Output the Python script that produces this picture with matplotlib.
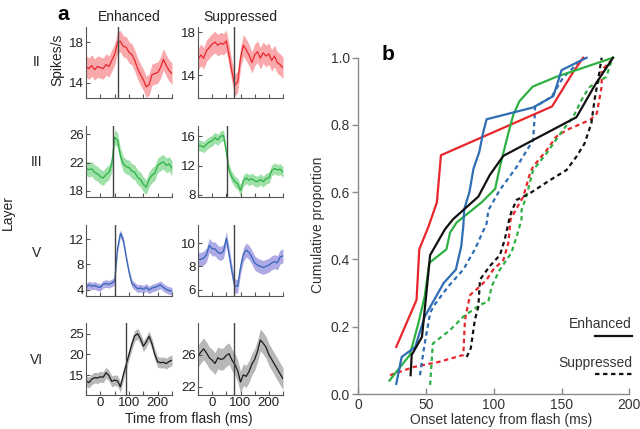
import matplotlib
matplotlib.use("Agg")
import matplotlib.pyplot as plt

plt.rcParams['font.family'] = ['Liberation Sans', 'DejaVu Sans']

# ---------------- data: panel a (firing-rate traces) ----------------
time_ms = [-50, -40, -30, -20, -10, 0, 10, 20, 30, 40, 50, 60, 70, 80, 90, 100,
           110, 120, 130, 140, 150, 160, 170, 180, 190, 200, 210, 220, 230, 240, 250]

II_enh = [15.6, 15.4, 15.7, 15.3, 15.6, 15.5, 15.4, 15.8, 15.6, 16.2, 16.8, 18.0, 18.1, 17.6, 17.5, 17.0,
          16.8, 16.2, 15.4, 14.8, 14.3, 13.6, 13.8, 14.8, 14.9, 15.0, 15.5, 16.3, 15.7, 15.2, 14.9]
II_sup = [15.5, 15.9, 15.6, 16.3, 16.6, 16.9, 17.1, 16.8, 17.0, 16.9, 17.2, 15.8, 14.3, 13.1, 13.4, 15.6,
          16.8, 16.4, 15.9, 15.2, 15.9, 16.2, 15.6, 16.1, 15.8, 16.0, 15.4, 15.8, 15.2, 15.0, 14.7]
III_enh = [21.2, 21.0, 21.1, 20.6, 20.4, 20.0, 19.8, 20.3, 20.6, 21.8, 25.6, 25.2, 23.0, 21.8, 21.4, 21.3,
           20.8, 20.6, 19.9, 19.6, 18.9, 18.5, 19.6, 20.2, 20.5, 21.6, 21.9, 22.1, 21.6, 21.8, 21.2]
III_sup = [14.8, 14.7, 14.5, 14.9, 15.2, 15.4, 15.8, 15.5, 16.0, 16.1, 13.8, 11.3, 10.4, 9.8, 9.5, 8.6,
           9.9, 10.3, 10.0, 10.2, 9.9, 9.8, 10.1, 9.8, 10.2, 10.3, 11.3, 11.6, 11.4, 11.5, 11.1]
V_enh = [4.4, 4.8, 4.6, 4.7, 4.5, 4.4, 4.9, 5.0, 4.9, 5.1, 5.4, 10.5, 12.9, 11.8, 9.2, 6.8,
         5.0, 4.6, 4.2, 4.3, 4.1, 4.4, 4.0, 4.3, 4.4, 4.6, 4.8, 4.4, 4.1, 3.9, 3.8]
V_sup = [8.6, 8.6, 8.7, 9.0, 9.8, 9.5, 9.5, 9.2, 9.1, 9.3, 10.4, 9.0, 7.5, 6.3, 6.3, 7.9,
         9.0, 9.4, 9.2, 8.8, 8.3, 8.1, 8.0, 7.9, 8.0, 8.1, 8.3, 8.4, 8.3, 8.8, 8.9]
VI_enh = [13.6, 13.2, 14.0, 14.4, 14.3, 14.6, 14.5, 15.6, 14.9, 13.5, 13.8, 13.6, 12.2, 15.0, 17.5, 20.0,
          22.5, 24.5, 25.0, 23.8, 22.0, 23.0, 24.4, 22.6, 20.0, 18.2, 18.0, 18.1, 17.8, 18.3, 18.6]
VI_sup = [25.8, 26.3, 26.7, 26.2, 25.6, 25.3, 24.9, 25.6, 25.4, 25.5, 25.9, 26.1, 25.3, 24.8, 24.0, 22.6,
          23.5, 23.3, 23.9, 24.8, 25.4, 26.4, 27.8, 27.4, 26.9, 26.0, 25.4, 24.8, 24.2, 23.6, 23.0]

# SEM half-widths of the shaded bands
sem_values = {"II_enh": 1.05, "II_sup": 1.0, "III_enh": 1.05, "III_sup": 0.75,
              "V_enh": 0.6, "V_sup": 0.6, "VI_enh": 1.3, "VI_sup": 1.35}
# flash-response onset markers (ms)
marker_ms = {"II_enh": 63, "II_sup": 78, "III_enh": 45, "III_sup": 54,
             "V_enh": 52, "V_sup": 77, "VI_enh": 90, "VI_sup": 78}

layer_names = ["II", "III", "V", "VI"]
column_titles = ["Enhanced", "Suppressed"]
ylims = {"II_enh": (12.5, 19.5), "II_sup": (11.9, 18.5),
         "III_enh": (17.1, 27.2), "III_sup": (7.7, 17.4),
         "V_enh": (3.05, 14.2), "V_sup": (5.45, 11.55),
         "VI_enh": (10.2, 27.6), "VI_sup": (21.0, 29.9)}
yticks = {"II_enh": [14, 18], "II_sup": [14, 18],
          "III_enh": [18, 22, 26], "III_sup": [8, 12, 16],
          "V_enh": [4, 8, 12], "V_sup": [6, 8, 10],
          "VI_enh": [15, 20, 25], "VI_sup": [22, 26]}
x_ticks = [-50, 0, 50, 100, 150, 200, 250]
x_ticklabels = ["", "0", "", "100", "", "200", ""]

# ---------------- data: panel b (cumulative onset latency) ----------------
enh_II_lat = [28, 43, 45, 48, 52, 58, 61, 143, 159, 166]
enh_II_cum = [0.14, 0.28, 0.43, 0.46, 0.50, 0.57, 0.71, 0.855, 0.96, 1.0]
enh_III_lat = [23, 38, 44, 49, 52.4, 65, 67.7, 72.6, 91, 101, 104.5, 110.7, 114.4, 118.8, 128.7, 146, 188]
enh_III_cum = [0.04, 0.116, 0.205, 0.29, 0.39, 0.43, 0.48, 0.51, 0.57, 0.61, 0.676, 0.775, 0.83, 0.87, 0.914, 0.943, 1.0]
enh_V_lat = [28, 32, 42, 49, 63, 72, 76, 77.5, 78.2, 82, 85, 89.3, 92, 94.7, 129, 144, 150, 168.5]
enh_V_cum = [0.03, 0.11, 0.14, 0.23, 0.33, 0.37, 0.44, 0.50, 0.55, 0.60, 0.67, 0.72, 0.775, 0.817, 0.852, 0.886, 0.963, 1.0]
enh_VI_lat = [38.6, 39.4, 47, 50, 53, 64, 70, 88.6, 97, 107, 129, 161, 174.7, 188]
enh_VI_cum = [0.056, 0.116, 0.17, 0.29, 0.413, 0.49, 0.52, 0.587, 0.651, 0.708, 0.755, 0.823, 0.919, 1.0]

sup_II_lat = [23.4, 40.6, 60, 77.5, 78.7, 82.4, 89.8, 94.7, 99.6, 107, 110.7, 112.4, 116.8, 121.8, 126.7,
              129, 139, 146, 153.7, 171, 176, 179.6, 179.6, 187]
sup_II_cum = [0.056, 0.08, 0.096, 0.116, 0.22, 0.294, 0.32, 0.34, 0.37, 0.398, 0.448, 0.52, 0.552, 0.587, 0.656,
              0.676, 0.725, 0.765, 0.785, 0.815, 0.834, 0.914, 0.963, 0.993]
sup_III_lat = [53, 55, 67.7, 77.5, 89.8, 96, 98.4, 104.5, 113, 117, 120.5, 120.5, 124, 129, 139, 151,
               158.7, 166, 171, 183, 187]
sup_III_cum = [0.027, 0.15, 0.19, 0.23, 0.265, 0.275, 0.32, 0.37, 0.42, 0.47, 0.52, 0.547, 0.587, 0.666, 0.716, 0.785,
               0.825, 0.884, 0.914, 0.943, 0.993]
sup_V_lat = [45.5, 49, 53, 55.3, 66.4, 77.5, 86, 94.7, 96, 104.5, 117, 129, 130.4, 130.4, 142.7, 151, 166]
sup_V_cum = [0.056, 0.15, 0.24, 0.26, 0.32, 0.37, 0.43, 0.507, 0.547, 0.607, 0.676, 0.755, 0.84, 0.854, 0.884, 0.94, 1.0]
sup_VI_lat = [80, 83, 86, 88.6, 89.8, 97, 104.5, 108, 111.4, 113, 116.8, 126.7, 141.5, 153.7, 161, 167,
              172, 174.7, 177, 179.6]
sup_VI_cum = [0.11, 0.136, 0.22, 0.26, 0.34, 0.38, 0.413, 0.458, 0.52, 0.542, 0.577, 0.597, 0.636, 0.666, 0.706, 0.745,
              0.805, 0.884, 0.934, 1.0]

# ---------------- styling ----------------
trace_colors = {"II": ("#e8282d", "#f9a8ab"), "III": ("#2bb246", "#9fe0a8"),
                "V": ("#3466b8", "#aeaae6"), "VI": ("#1a1a1a", "#b8b8b8")}
cdf_colors = {"II": "#e8262b", "III": "#2fb043", "V": "#2f6db5", "VI": "#111111"}

W, H = 640, 429
fig = plt.figure(figsize=(W / 100, H / 100), dpi=100)


def rect(x0, y0, x1, y1):
    return [x0 / W, 1 - y1 / H, (x1 - x0) / W, (y1 - y0) / H]


def ftext(x, y, s, **kw):
    fig.text(x / W, 1 - y / H, s, **kw)


traces = {"II_enh": II_enh, "II_sup": II_sup, "III_enh": III_enh, "III_sup": III_sup,
          "V_enh": V_enh, "V_sup": V_sup, "VI_enh": VI_enh, "VI_sup": VI_sup}
row_px = [(27, 98), (126, 197), (225, 296), (323, 395)]
col_px = [(86, 172), (198, 283)]

for r, layer in enumerate(layer_names):
    for c, kind in enumerate(["enh", "sup"]):
        key = f"{layer}_{kind}"
        ax = fig.add_axes(rect(col_px[c][0], row_px[r][0], col_px[c][1], row_px[r][1]))
        vals = traces[key]
        s = sem_values[key]
        line_c, band_c = trace_colors[layer]
        lo = [v - s for v in vals]
        hi = [v + s for v in vals]
        ax.fill_between(time_ms, lo, hi, color=band_c, lw=0)
        ax.plot(time_ms, vals, color=line_c, lw=0.9)
        ax.axvline(marker_ms[key], color="#444444", lw=1.0)
        ax.set_xlim(-50, 250)
        ax.set_ylim(*ylims[key])
        ax.set_yticks(yticks[key])
        ax.set_xticks(x_ticks)
        if r == 3:
            ax.set_xticklabels(x_ticklabels)
        else:
            ax.set_xticklabels([])
        for sp in ["top", "right"]:
            ax.spines[sp].set_visible(False)
        for sp in ["left", "bottom"]:
            ax.spines[sp].set_color("#555555")
            ax.spines[sp].set_linewidth(0.8)
        ax.tick_params(direction="in", length=3, width=0.8, color="#555555",
                       labelsize=9.5, pad=1.5, labelcolor="#222222")
        ax.patch.set_alpha(0)

# panel a texts
ftext(63, 15, "a", fontsize=15, fontweight="bold", ha="center", va="center")
ftext(129, 17, column_titles[0], fontsize=10, ha="center", va="center", color="#222222")
ftext(240, 17, column_titles[1], fontsize=10, ha="center", va="center", color="#222222")
ftext(57, 60, "Spikes/s", fontsize=10, rotation=90, ha="center", va="center", color="#222222")
for name, ypx in zip(layer_names, [62, 162, 253, 360]):
    ftext(37, ypx, name, fontsize=10, ha="center", va="center", color="#222222")
ftext(8, 213, "Layer", fontsize=10, rotation=90, ha="center", va="center", color="#222222")
ftext(189, 419, "Time from flash (ms)", fontsize=10, ha="center", va="center", color="#222222")

# ---------------- panel b ----------------
axb = fig.add_axes(rect(358.3, 57.7, 629.3, 394))
enh_sets = [("II", enh_II_lat, enh_II_cum), ("III", enh_III_lat, enh_III_cum),
            ("V", enh_V_lat, enh_V_cum), ("VI", enh_VI_lat, enh_VI_cum)]
sup_sets = [("II", sup_II_lat, sup_II_cum), ("III", sup_III_lat, sup_III_cum),
            ("V", sup_V_lat, sup_V_cum), ("VI", sup_VI_lat, sup_VI_cum)]
dash = (0, (2.0, 1.6))
for layer, xs, ys in sup_sets:
    axb.plot(xs, ys, color=cdf_colors[layer], lw=1.6, linestyle=dash, clip_on=False)
for layer, xs, ys in enh_sets:
    axb.plot(xs, ys, color=cdf_colors[layer], lw=1.6, clip_on=False)

axb.set_xlim(0, 200)
axb.set_ylim(0, 1.0)
axb.set_xticks([0, 50, 100, 150, 200])
axb.set_yticks([0.0, 0.2, 0.4, 0.6, 0.8, 1.0])
axb.set_yticklabels(["0.0", "0.2", "0.4", "0.6", "0.8", "1.0"])
for sp in ["top", "right"]:
    axb.spines[sp].set_visible(False)
for sp in ["left", "bottom"]:
    axb.spines[sp].set_color("#8a8a8a")
    axb.spines[sp].set_linewidth(1.0)
axb.tick_params(axis="y", direction="out", length=4, width=1.0, color="#8a8a8a",
                labelsize=10, labelcolor="#333333", pad=2)
axb.tick_params(axis="x", direction="in", length=4, width=1.0, color="#8a8a8a",
                labelsize=10, labelcolor="#333333", pad=3)
axb.patch.set_alpha(0)

ftext(388, 55, "b", fontsize=15, fontweight="bold", ha="center", va="center")
ftext(318, 225, "Cumulative proportion", fontsize=10, rotation=90, ha="center", va="center", color="#333333")
ftext(501, 420, "Onset latency from flash (ms)", fontsize=10, ha="center", va="center", color="#333333")

# legend
ftext(632, 324, "Enhanced", fontsize=10, ha="right", va="center", color="#333333")
ftext(632, 363, "Suppressed", fontsize=10, ha="right", va="center", color="#333333")
fig.add_artist(plt.Line2D([595 / W, 632 / W], [1 - 336 / H, 1 - 336 / H], color="#111111", lw=1.6))
fig.add_artist(plt.Line2D([595 / W, 632 / W], [1 - 374 / H, 1 - 374 / H], color="#111111", lw=1.6,
                          linestyle=dash))

fig.savefig("out.png", dpi=100)
